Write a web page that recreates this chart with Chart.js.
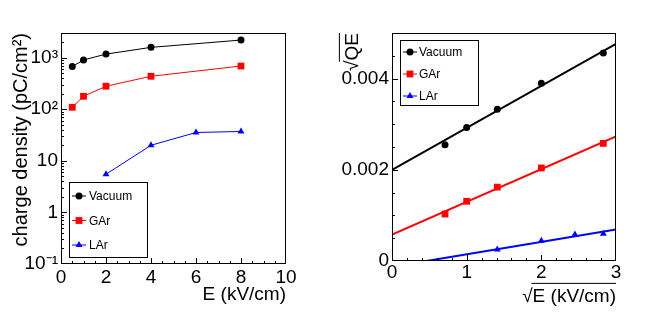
<!DOCTYPE html>
<html>
<head>
<meta charset="utf-8">
<script src="https://cdn.jsdelivr.net/npm/chart.js@4.4.1/dist/chart.umd.min.js"></script>
<style>
  html, body { margin: 0; padding: 0; background: #fff; }
  #wrap { position: relative; width: 654px; height: 314px; }
  .panel { position: absolute; top: 0; width: 327px; height: 314px; }
</style>
</head>
<body>
<div id="wrap">
  <div class="panel" style="left:0"><canvas id="chartLeft" width="327" height="314"></canvas></div>
  <div class="panel" style="left:327px"><canvas id="chartRight" width="327" height="314"></canvas></div>
</div>
<script>
// ---- data ----
const seriesNames = ['Vacuum', 'GAr', 'LAr']

// left: charge density vs E
const eField = [0.5, 1, 2, 4, 8]
const eFieldLAr = [2, 4, 6, 8]
const qVacuum = [670, 900, 1170, 1580, 2190]
const qGAr = [109, 178, 279, 435, 687]
const qLAr = [5.5, 20, 35.4, 37]
const logTicks = [0.1, 1, 10, 100, 1000]
const logTickLabels = ['10⁻¹', '1', '10', '10²', '10³']
const eTicks = [0, 2, 4, 6, 8, 10]

// right: sqrt(QE) vs sqrt(E), with straight-line fits
const sqrtE = [0.71, 1.0, 1.41, 2.0, 2.83]
const sqrtELAr = [1.41, 2.0, 2.45, 2.83]
const sqrtQEVacuum = [0.00255, 0.00293, 0.00333, 0.00390, 0.00456]
const sqrtQEGAr = [0.00103, 0.00131, 0.00162, 0.00204, 0.00258]
const sqrtQELAr = [0.000250, 0.000445, 0.000580, 0.000598]
const fitX = [0, 3]
const fitVacuum = [0.00200, 0.00476]
const fitGAr = [0.00058, 0.00273]
const fitLAr = [-0.000125, 0.00069]
const linTicks = [0, 0.002, 0.004]
const linTickLabels = ['0', '0.002', '0.004']
const sqrtETicks = [0, 1, 2, 3]

// ---- style ----
const FONT = "'Liberation Sans', Arial, Helvetica, sans-serif"
const colors = ['#000000', '#ff0000', '#0000ff']
const styles = ['circle', 'rect', 'triangle']
const radii = [3.5, 4.8, 4]

const pts = (xs, ys) => xs.map((x, i) => ({ x, y: ys[i] }))

function marker(ctx, style, x, y, r, color) {
  ctx.save()
  ctx.fillStyle = color
  ctx.beginPath()
  if (style === 'circle') {
    ctx.arc(x, y, r, 0, Math.PI * 2)
  } else if (style === 'rect') {
    const s = r * Math.SQRT1_2
    ctx.rect(x - s, y - s, 2 * s, 2 * s)
  } else {
    for (let k = 0; k < 3; k++) {
      const a = k * 2 * Math.PI / 3
      const px = x + Math.sin(a) * r, py = y - Math.cos(a) * r
      k ? ctx.lineTo(px, py) : ctx.moveTo(px, py)
    }
    ctx.closePath()
  }
  ctx.fill()
  ctx.restore()
}

function drawTitle(ctx, t) {
  ctx.save()
  ctx.font = `${t.size}px ${FONT}`
  ctx.fillStyle = '#000'
  ctx.textBaseline = 'alphabetic'
  ctx.textAlign = 'right'
  ctx.translate(t.x, t.y)
  if (t.rotate) ctx.rotate(-Math.PI / 2)
  const text = t.sqrt ? '√' + t.text : t.text
  ctx.fillText(text, 0, 0)
  if (t.sqrt) {
    const full = ctx.measureText(text).width
    const rw = ctx.measureText('√').width
    ctx.strokeStyle = '#000'
    ctx.lineWidth = 1
    ctx.beginPath()
    const oy = -t.size * 0.98
    ctx.moveTo(-full + rw * 0.88, oy)
    ctx.lineTo(0, oy)
    ctx.stroke()
  }
  ctx.restore()
}

const rootStyle = {
  id: 'rootStyle',
  afterDraw(chart, args, opts) {
    const ctx = chart.ctx
    const { left, right, top, bottom } = chart.chartArea
    const xs = chart.scales.x, ys = chart.scales.y
    ctx.save()
    ctx.strokeStyle = '#000'
    ctx.lineWidth = 1
    ctx.strokeRect(left + 0.5, top + 0.5, right - left - 1, bottom - top - 1)
    ctx.beginPath()
    const xt = (v, len) => {
      const p = Math.round(xs.getPixelForValue(v)) + 0.5
      if (p < left || p > right) return
      ctx.moveTo(p, bottom); ctx.lineTo(p, bottom - len)
    }
    const yt = (v, len) => {
      const p = Math.round(ys.getPixelForValue(v)) + 0.5
      if (p < top || p > bottom) return
      ctx.moveTo(left, p); ctx.lineTo(left + len, p)
    }
    for (let v = xs.min; v <= xs.max + 1e-9; v += opts.xMinor) {
      const isMajor = Math.abs(v / opts.xMajor - Math.round(v / opts.xMajor)) < 1e-6
      xt(v, isMajor ? 6 : 3)
    }
    if (opts.logY) {
      for (let d = -1; d <= 3; d++) {
        for (let m = 1; m <= 9; m++) {
          const v = m * Math.pow(10, d)
          if (v <= ys.max) yt(v, m === 1 ? 6 : 3)
        }
      }
    } else {
      for (let v = ys.min; v <= ys.max + 1e-12; v += opts.yMinor) {
        const isMajor = Math.abs(v / opts.yMajor - Math.round(v / opts.yMajor)) < 1e-6
        yt(v, isMajor ? 6 : 3)
      }
    }
    ctx.stroke()

    // legend
    const lg = opts.legend
    ctx.fillStyle = '#fff'
    ctx.fillRect(lg.x, lg.y, lg.w, lg.h)
    ctx.strokeRect(lg.x + 0.5, lg.y + 0.5, lg.w, lg.h)
    ctx.font = `12px ${FONT}`
    ctx.textBaseline = 'middle'
    ctx.textAlign = 'left'
    seriesNames.forEach((name, i) => {
      const y = lg.rowY + i * lg.step
      ctx.strokeStyle = colors[i]
      ctx.lineWidth = lg.lineWidth
      ctx.beginPath()
      ctx.moveTo(lg.mx - 7, y); ctx.lineTo(lg.mx + 7, y)
      ctx.stroke()
      marker(ctx, styles[i], lg.mx, y, radii[i], colors[i])
      ctx.fillStyle = '#000'
      ctx.fillText(name, lg.tx, y + 1)
    })
    ctx.restore()

    drawTitle(ctx, opts.xTitle)
    drawTitle(ctx, opts.yTitle)
  }
}

function scaleCommon(extra) {
  return Object.assign({
    grid: { display: false, drawTicks: false },
    border: { display: false },
  }, extra)
}
const tickFont = { family: FONT, size: 19 }

// ---- left chart ----
new Chart(document.getElementById('chartLeft'), {
  type: 'line',
  data: {
    datasets: [
      { label: seriesNames[0], data: pts(eField, qVacuum) },
      { label: seriesNames[1], data: pts(eField, qGAr) },
      { label: seriesNames[2], data: pts(eFieldLAr, qLAr) },
    ].map((d, i) => Object.assign(d, {
      borderColor: colors[i], backgroundColor: colors[i], borderWidth: 1,
      pointStyle: styles[i], pointRadius: radii[i], pointBorderWidth: 0, tension: 0,
    })),
  },
  options: {
    responsive: false,
    animation: false,
    layout: { padding: { left: 0, top: 33, right: 41, bottom: 0 } },
    scales: {
      x: scaleCommon({
        type: 'linear', min: 0, max: 10,
        afterBuildTicks: (s) => { s.ticks = eTicks.map((v) => ({ value: v })) },
        afterFit: (s) => { s.height = 50; s.paddingLeft = 0; s.paddingRight = 0 },
        ticks: { font: tickFont, color: '#000', padding: 2, maxRotation: 0, autoSkip: false },
      }),
      y: scaleCommon({
        type: 'logarithmic', min: 0.1, max: 3000,
        afterBuildTicks: (s) => { s.ticks = logTicks.map((v) => ({ value: v })) },
        afterFit: (s) => { s.width = 61; s.paddingTop = 0; s.paddingBottom = 0 },
        ticks: {
          font: tickFont, color: '#000', padding: 3, autoSkip: false,
          callback: (v) => logTickLabels[logTicks.indexOf(v)] ?? '',
        },
      }),
    },
    plugins: {
      legend: { display: false },
      tooltip: { enabled: false },
      rootStyle: {
        xMajor: 2, xMinor: 0.5, logY: true,
        legend: { x: 69, y: 182, w: 78, h: 75, rowY: 196, step: 24.5, mx: 79, tx: 89, lineWidth: 1 },
        xTitle: { text: 'E (kV/cm)', x: 286, y: 300, size: 19 },
        yTitle: { text: 'charge density (pC/cm²)', x: 27, y: 33, size: 20, rotate: true },
      },
    },
  },
  plugins: [rootStyle],
})

// ---- right chart ----
new Chart(document.getElementById('chartRight'), {
  type: 'scatter',
  data: {
    datasets: [
      { label: seriesNames[0], data: pts(sqrtE, sqrtQEVacuum) },
      { label: seriesNames[1], data: pts(sqrtE, sqrtQEGAr) },
      { label: seriesNames[2], data: pts(sqrtELAr, sqrtQELAr) },
    ].map((d, i) => Object.assign(d, {
      borderColor: colors[i], backgroundColor: colors[i], showLine: false,
      pointStyle: styles[i], pointRadius: radii[i], pointBorderWidth: 0, order: 0,
    })).concat([fitVacuum, fitGAr, fitLAr].map((f, i) => ({
      label: seriesNames[i] + ' fit', data: pts(fitX, f), showLine: true,
      borderColor: colors[i], borderWidth: 2, pointRadius: 0, order: 1,
    }))),
  },
  options: {
    responsive: false,
    animation: false,
    layout: { padding: { left: 0, top: 33, right: 38, bottom: 0 } },
    scales: {
      x: scaleCommon({
        type: 'linear', min: 0, max: 3,
        afterBuildTicks: (s) => { s.ticks = sqrtETicks.map((v) => ({ value: v })) },
        afterFit: (s) => { s.height = 53; s.paddingLeft = 0; s.paddingRight = 0 },
        ticks: { font: tickFont, color: '#000', padding: 0, maxRotation: 0, autoSkip: false },
      }),
      y: scaleCommon({
        type: 'linear', min: 0, max: 0.005,
        afterBuildTicks: (s) => { s.ticks = linTicks.map((v) => ({ value: v })) },
        afterFit: (s) => { s.width = 65; s.paddingTop = 0; s.paddingBottom = 0 },
        ticks: {
          font: tickFont, color: '#000', padding: 3, autoSkip: false,
          callback: (v) => linTickLabels[linTicks.indexOf(v)] ?? '',
        },
      }),
    },
    plugins: {
      legend: { display: false },
      tooltip: { enabled: false },
      rootStyle: {
        xMajor: 1, xMinor: 0.2, yMajor: 0.002, yMinor: 0.0005,
        legend: { x: 73, y: 40, w: 78, h: 65, rowY: 52, step: 22, mx: 83, tx: 92, lineWidth: 1 },
        xTitle: { text: 'E (kV/cm)', x: 289, y: 302, size: 19, sqrt: true },
        yTitle: { text: 'QE', x: 31, y: 33, size: 19, rotate: true, sqrt: true },
      },
    },
  },
  plugins: [rootStyle],
})
</script>
</body>
</html>
